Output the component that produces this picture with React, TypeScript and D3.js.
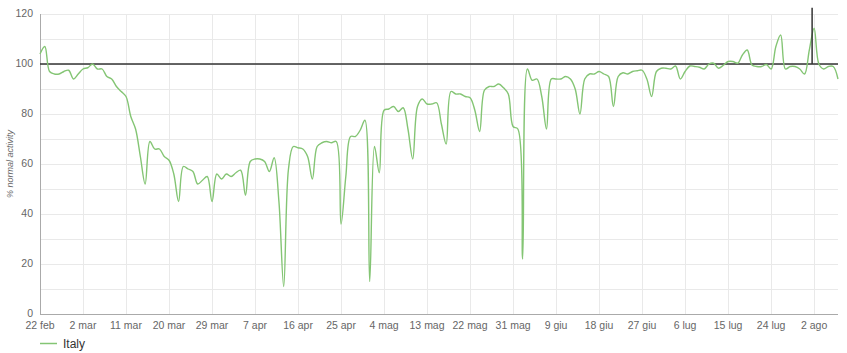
import React, { useEffect, useRef } from 'react';
import * as d3 from 'd3';

// daily values, 22 feb 2020 -> 7 ago 2020
const startDate = new Date(2020, 1, 22);
const italyValues = [
  104, 107, 97, 96, 96, 97, 97.5, 94, 96, 98,
  98.5, 100, 98, 98, 95, 94, 91, 89, 87, 79,
  74, 63, 52, 69, 66, 66, 63, 61.5, 56, 45,
  59, 58, 57, 52, 53.5, 55, 45, 56, 54, 56,
  55, 56.5, 57.5, 47.5, 61, 62, 62, 61, 57, 62.5,
  45, 11, 58, 67, 66.5, 66, 63, 54, 67, 68.5,
  69, 68.5, 69, 36, 55, 71, 71, 73.5, 77.5, 13,
  67, 56.5, 81.5, 82, 83, 81, 82.5, 74, 62, 83,
  86, 84, 84, 84.5, 76, 68, 89, 88, 88, 87,
  86.5, 81.5, 73, 89.5, 91, 91, 92, 90.5, 88, 75,
  74, 22, 98, 93.5, 94, 87, 74, 94, 94, 94,
  95, 94, 90, 80, 94, 96, 96, 97, 96, 95,
  83, 95, 96.5, 96, 97, 97.3, 97.5, 94, 87, 97,
  98.3, 98.3, 98, 99.2, 94, 97, 99.2, 99, 98.7, 98,
  100, 100.3, 98.3, 99.5, 101, 101, 100.3, 103.6, 105.6, 99.6,
  99, 99, 99.8, 98, 107, 111.6, 98, 99, 99, 98,
  96, 105.6, 114.3, 100, 98, 99, 99, 94,
];
const tickLabels = [
  '22 feb', '2 mar', '11 mar', '20 mar', '29 mar', '7 apr', '16 apr', '25 apr',
  '4 mag', '13 mag', '22 mag', '31 mag', '9 giu', '18 giu', '27 giu', '6 lug',
  '15 lug', '24 lug', '2 ago',
];
const yTicks = [0, 20, 40, 60, 80, 100, 120];
const yGrid = d3.range(0, 121, 10);
const baseline = 100;
const markerDay = 161.6;
const markerTop = 122.5;

const W = 847;
const H = 353;

export default function App() {
  const svgRef = useRef<SVGSVGElement>(null);

  useEffect(() => {
    const svg = d3.select(svgRef.current);
    svg.selectAll('*').remove();

    const data = italyValues.map((v, i) => ({ date: d3.timeDay.offset(startDate, i), value: v }));
    const tickDates = tickLabels.map((_, i) => d3.timeDay.offset(startDate, i * 9));

    const x = d3.scaleTime()
      .domain([startDate, data[data.length - 1].date])
      .range([40, 838]);
    const y = d3.scaleLinear().domain([0, 120]).range([314, 14]);

    const font = '"Liberation Sans", Arial, Helvetica, sans-serif';

    // grid
    svg.append('g')
      .selectAll('line')
      .data(yGrid)
      .join('line')
      .attr('x1', 40).attr('x2', 838)
      .attr('y1', (d) => y(d) + 0.5).attr('y2', (d) => y(d) + 0.5)
      .attr('stroke', '#e9e9e9');

    svg.append('g')
      .selectAll('line')
      .data(tickDates.slice(1))
      .join('line')
      .attr('x1', (d) => Math.round(x(d)) + 0.5).attr('x2', (d) => Math.round(x(d)) + 0.5)
      .attr('y1', 14).attr('y2', 314)
      .attr('stroke', '#e9e9e9');

    // axes lines
    svg.append('line')
      .attr('x1', 40.5).attr('x2', 40.5).attr('y1', 14).attr('y2', 314)
      .attr('stroke', '#aaa');
    svg.append('line')
      .attr('x1', 40).attr('x2', 838).attr('y1', 314.5).attr('y2', 314.5)
      .attr('stroke', '#aaa');

    // y labels
    svg.append('g')
      .selectAll('text')
      .data(yTicks)
      .join('text')
      .attr('x', 33)
      .attr('y', (d) => y(d) + 3)
      .attr('text-anchor', 'end')
      .attr('font-family', font)
      .attr('font-size', 10.5)
      .attr('fill', '#666')
      .text((d) => d);

    // x labels
    svg.append('g')
      .selectAll('text')
      .data(tickDates)
      .join('text')
      .attr('x', (d) => x(d))
      .attr('y', 329)
      .attr('text-anchor', 'middle')
      .attr('font-family', font)
      .attr('font-size', 10.5)
      .attr('fill', '#666')
      .text((_, i) => tickLabels[i]);

    // y title
    svg.append('text')
      .attr('transform', `translate(13,${y(60)}) rotate(-90)`)
      .attr('text-anchor', 'middle')
      .attr('font-family', font)
      .attr('font-size', 9)
      .attr('font-style', 'italic')
      .attr('fill', '#666')
      .text('% normal activity');

    // 100 baseline
    svg.append('line')
      .attr('x1', 40).attr('x2', 838)
      .attr('y1', y(baseline)).attr('y2', y(baseline))
      .attr('stroke', '#333')
      .attr('stroke-width', 1.5);

    // series
    const line = d3.line<{ date: Date; value: number }>()
      .x((d) => x(d.date))
      .y((d) => y(d.value))
      .curve(d3.curveCatmullRom.alpha(0.5));

    svg.append('path')
      .datum(data)
      .attr('fill', 'none')
      .attr('stroke', '#84c574')
      .attr('stroke-width', 1.4)
      .attr('d', line);

    // marker line
    const mx = x(d3.timeHour.offset(startDate, markerDay * 24));
    svg.append('line')
      .attr('x1', mx).attr('x2', mx)
      .attr('y1', y(markerTop)).attr('y2', y(baseline))
      .attr('stroke', '#333')
      .attr('stroke-width', 1.5);

    // legend
    svg.append('line')
      .attr('x1', 40).attr('x2', 57)
      .attr('y1', 343.5).attr('y2', 343.5)
      .attr('stroke', '#84c574')
      .attr('stroke-width', 1.5);
    svg.append('text')
      .attr('x', 63)
      .attr('y', 348)
      .attr('font-family', font)
      .attr('font-size', 12)
      .attr('fill', '#333')
      .text('Italy');
  }, []);

  return (
    <>
      <style>{'body{margin:0}'}</style>
      <svg ref={svgRef} width={W} height={H} style={{ display: 'block', background: '#fff' }} />
    </>
  );
}
